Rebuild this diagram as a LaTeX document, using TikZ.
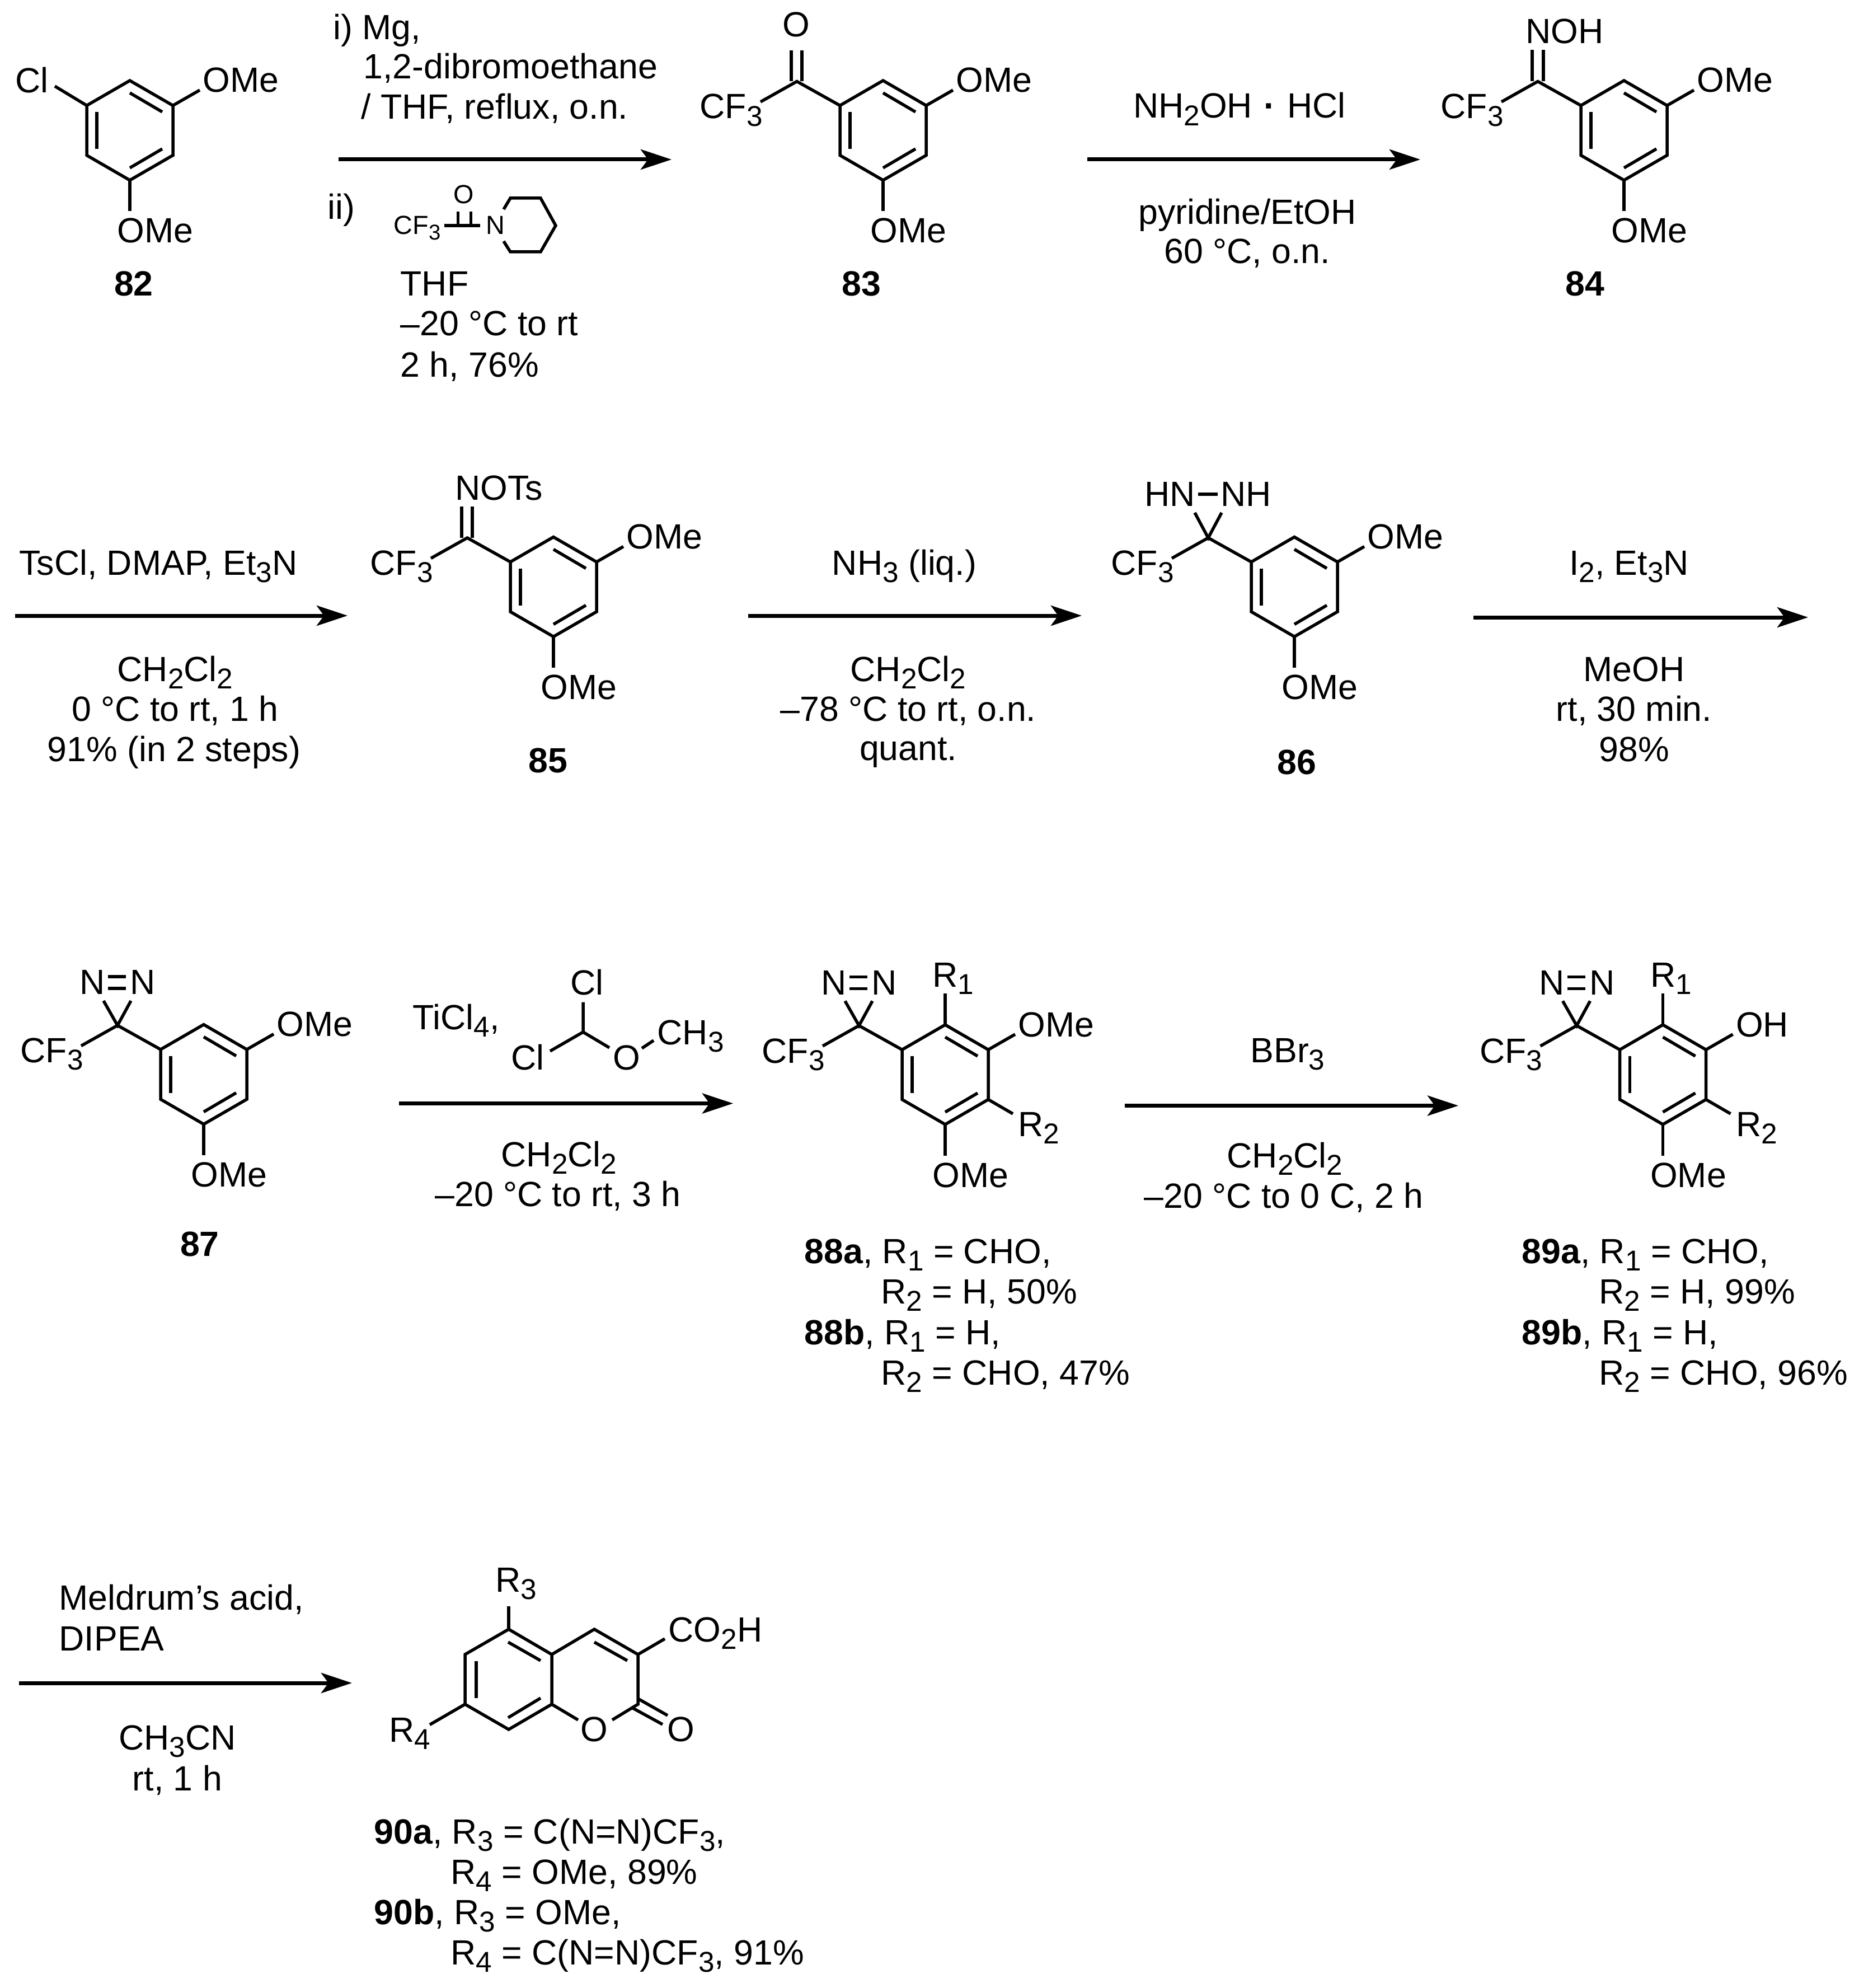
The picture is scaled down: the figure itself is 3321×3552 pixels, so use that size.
\documentclass[tikz,border=0pt]{standalone}
\usepackage{fontspec}
\usepackage{graphicx}
\setmainfont{Liberation Sans}
\usetikzlibrary{arrows.meta}
\newcommand{\low}[1]{\raisebox{-0.21em}{\scalebox{0.82}{#1}}}
\tikzset{
	bond/.style={line width=0.055cm},
	rxn/.style={line width=0.07cm,-{Stealth[length=0.55cm,width=0.36cm,inset=0.13cm]}},
	lab/.style={anchor=base west,inner sep=0pt},
	mid/.style={anchor=base,inner sep=0pt},
	num/.style={mid,font=\fontsize{17.8pt}{20pt}\selectfont\bfseries},
}
% ring with its two outer substituents, drawn round the origin of the scope
\newcommand{\arene}[2]{
	\coordinate (#1a) at (0,-89);
	\coordinate (#1b) at (77,-44.5);
	\coordinate (#1c) at (77,44.5);
	\coordinate (#1d) at (0,89);
	\coordinate (#1e) at (-77,44.5);
	\coordinate (#1f) at (-77,-44.5);
	\coordinate (#1u) at (125,-72);
	\coordinate (#1v) at (0,144.5);
	\draw[bond] (#1a) to (#1b) to (#1c) to (#1d) to (#1e) to (#1f) to cycle;
	\draw[bond] (-59,-33) to (-59,33);
	\draw[bond] (0,-67) to (58,-33);
	\draw[bond] (58,33) to (0,67);
	\draw[bond] (#1b) to (#1u);
	\draw[bond] (#1d) to (#1v);
	\node[lab] (#1up) at (130,-68) {#2};
	\node[lab] (#1dn) at (-23,201) {OMe};
}
\newcommand{\cfgroup}[1]{
	\coordinate (#1k) at (-154,-87.5);
	\coordinate (#1g) at (-219,-51);
	\draw[bond] (#1f) to (#1k) to (#1g);
	\node[lab] (#1cf) at (-328,-21) {CF\low{3}};
}
\newcommand{\azirine}[1]{
	\coordinate (#1n) at (-179,-131.5);
	\coordinate (#1m) at (-130,-131.5);
	\draw[bond] (#1n) to (#1k) to (#1m);
	\draw[bond] (-171,-174.5) to (-139,-174.5);
	\draw[bond] (-171,-153.5) to (-139,-153.5);
	\node[lab] (#1na) at (-222,-143) {N};
	\node[lab] (#1nb) at (-132,-143) {N};
}
\newcommand{\rgroups}[1]{
	\coordinate (#1r) at (0,-145);
	\coordinate (#1s) at (121,70);
	\draw[bond] (#1a) to (#1r);
	\draw[bond] (#1c) to (#1s);
	\node[lab] (#1ra) at (-23,-157) {R\low{1}};
	\node[lab] (#1rb) at (130,110.5) {R\low{2}};
}
\begin{document}
\begin{tikzpicture}[x=0.01cm,y=-0.01cm,every node/.style={font=\fontsize{17.8pt}{20pt}\selectfont}]
	\useasboundingbox (0,0) rectangle (3321,3552);
	% 82
	\begin{scope}[shift={(232,233)}]
		\arene{p}{OMe}
		\coordinate (pq) at (-134,-79);
		\draw[bond] (pf) to (pq);
		\node[lab] (pcl) at (-205,-67) {Cl};
	\end{scope}
	\node[num] (n82) at (239,529) {82};
	% 83
	\begin{scope}[shift={(1578,233)}]
		\arene{q}{OMe}
		\cfgroup{q}
		\draw[bond] (-164,-87.5) to (-164,-143);
		\draw[bond] (-145,-87.5) to (-145,-143);
		\node[mid] (qo) at (-155,-167) {O};
	\end{scope}
	\node[num] (n83) at (1539,529) {83};
	% 84
	\begin{scope}[shift={(2902,233)}]
		\arene{s}{OMe}
		\cfgroup{s}
		\draw[bond] (-164,-87.5) to (-164,-144);
		\draw[bond] (-144,-87.5) to (-144,-144);
		\node[lab] (sno) at (-176,-155) {NOH};
	\end{scope}
	\node[num] (n84) at (2832,529) {84};
	% 85
	\begin{scope}[shift={(989,1048.5)}]
		\arene{t}{OMe}
		\cfgroup{t}
		\draw[bond] (-164,-87.5) to (-164,-143.5);
		\draw[bond] (-145,-87.5) to (-145,-143.5);
		\node[lab] (tno) at (-176,-155.5) {NOTs};
	\end{scope}
	\node[num] (n85) at (979,1380) {85};
	% 86
	\begin{scope}[shift={(2313,1048.5)}]
		\arene{w}{OMe}
		\cfgroup{w}
		\coordinate (wn) at (-178,-132.5);
		\coordinate (wm) at (-130,-132.5);
		\draw[bond] (wn) to (wk) to (wm);
		\draw[bond] (-172,-165.5) to (-137.5,-165.5);
		\node[lab] (wna) at (-268,-144) {HN};
		\node[lab] (wnb) at (-132,-144) {NH};
	\end{scope}
	\node[num] (n86) at (2317,1383) {86};
	% 87
	\begin{scope}[shift={(364,1919.6)}]
		\arene{y}{OMe}
		\cfgroup{y}
		\azirine{y}
	\end{scope}
	\node[num] (n87) at (357,2244) {87};
	% 88
	\begin{scope}[shift={(1689,1920)}]
		\arene{z}{OMe}
		\cfgroup{z}
		\azirine{z}
		\rgroups{z}
	\end{scope}
	\node[lab] (n88a) at (1437,2257) {\textbf{88a}, R\low{1} = CHO,};
	\node[lab] (n88c) at (1574,2329) {R\low{2} = H, 50\%};
	\node[lab] (n88b) at (1437,2402) {\textbf{88b}, R\low{1} = H,};
	\node[lab] (n88d) at (1574,2474) {R\low{2} = CHO, 47\%};
	% 89
	\begin{scope}[shift={(2971.5,1920)}]
		\arene{h}{OH}
		\cfgroup{h}
		\azirine{h}
		\rgroups{h}
	\end{scope}
	\node[lab] (n89a) at (2719,2257) {\textbf{89a}, R\low{1} = CHO,};
	\node[lab] (n89c) at (2857,2329) {R\low{2} = H, 99\%};
	\node[lab] (n89b) at (2719,2402) {\textbf{89b}, R\low{1} = H,};
	\node[lab] (n89d) at (2857,2474) {R\low{2} = CHO, 96\%};
	% 90
	\coordinate (C5) at (909,2911);
	\coordinate (C4a) at (986,2956);
	\coordinate (C8a) at (986,3045);
	\coordinate (C8) at (909,3090);
	\coordinate (C7) at (831,3045);
	\coordinate (C6) at (831,2956);
	\coordinate (C4) at (1062,2911);
	\coordinate (C3) at (1140,2956);
	\coordinate (C2) at (1140,3045);
	\coordinate (Oa) at (1033,3073);
	\coordinate (Ob) at (1094,3073);
	\draw[bond] (C5) to (C4a) to (C8a) to (C8) to (C7) to (C6) to cycle;
	\draw[bond] (C4a) to (C4) to (C3) to (C2) to (Ob);
	\draw[bond] (C8a) to (Oa);
	\draw[bond] (908,2934) to (966,2967);
	\draw[bond] (851,2968) to (851,3034);
	\draw[bond] (908,3069) to (966,3034);
	\draw[bond] (1062,2934) to (1121,2967);
	\draw[bond] (1140,3035) to (1193,3065);
	\draw[bond] (1131,3052) to (1184,3081);
	\draw[bond] (C5) to (909,2869.5);
	\draw[bond] (C3) to (1188,2928);
	\draw[bond] (C7) to (768,3081.5);
	\node[lab] (rthree) at (885,2844) {R\low{3}};
	\node[lab] (acid) at (1194,2933) {CO\low{2}H};
	\node[lab] (rfour) at (695,3112) {R\low{4}};
	\node[mid] (oring) at (1062,3111) {O};
	\node[mid] (oexo) at (1217,3111) {O};
	\node[lab] (n90a) at (668,3294) {\textbf{90a}, R\low{3} = C(N=N)CF\low{3},};
	\node[lab] (n90c) at (805,3366) {R\low{4} = OMe, 89\%};
	\node[lab] (n90b) at (668,3438) {\textbf{90b}, R\low{3} = OMe,};
	\node[lab] (n90d) at (805,3510) {R\low{4} = C(N=N)CF\low{3}, 91\%};
	% step 1
	\coordinate (a1s) at (605,285);
	\coordinate (a1e) at (1200,285);
	\draw[rxn] (a1s) to (a1e);
	\node[lab] (r1a) at (595,71) {i) Mg,};
	\node[lab] (r1b) at (649,141) {1,2-dibromoethane};
	\node[lab] (r1c) at (645,213) {/ THF, reflux, o.n.};
	\node[lab] (r1d) at (585,392) {ii)};
	\node[lab] (r1e) at (715,529) {THF};
	\node[lab] (r1f) at (715,600) {--20 °C to rt};
	\node[lab] (r1g) at (715,673) {2 h, 76\%};
	\coordinate (pa) at (900,374);
	\coordinate (pb) at (912,354);
	\coordinate (pc) at (966,354);
	\coordinate (pd) at (993,403);
	\coordinate (pe) at (966,450);
	\coordinate (pg) at (912,450);
	\coordinate (ph) at (900,431);
	\draw[bond] (pa) to (pb) to (pc) to (pd) to (pe) to (pg) to (ph);
	\draw[bond] (793.5,403) to (858,403);
	\draw[bond] (818.5,403) to (818.5,378);
	\draw[bond] (841.7,403) to (841.7,378);
	\begin{scope}[every node/.style={font=\fontsize{13.3pt}{15pt}\selectfont}]
		\node[lab] (pcf) at (703,419) {CF\low{3}};
		\node[mid] (po) at (829,364) {O};
		\node[lab] (pn) at (868,419) {N};
	\end{scope}
	% step 2
	\coordinate (a2s) at (1943,285);
	\coordinate (a2e) at (2538,285);
	\draw[rxn] (a2s) to (a2e);
	\node[mid] (r2a) at (2215,211) {NH\low{2}OH\,\,\textbf{·}\,\,HCl};
	\node[mid] (r2b) at (2229,401) {pyridine/EtOH};
	\node[mid] (r2c) at (2229,471) {60 °C, o.n.};
	% step 3
	\coordinate (a3s) at (27,1100);
	\coordinate (a3e) at (621,1100);
	\draw[rxn] (a3s) to (a3e);
	\node[mid] (r3a) at (283,1027) {TsCl, DMAP, Et\low{3}N};
	\node[mid] (r3b) at (313,1217) {CH\low{2}Cl\low{2}};
	\node[mid] (r3c) at (313,1288) {0 °C to rt, 1 h};
	\node[mid] (r3d) at (311,1360) {91\% (in 2 steps)};
	% step 4
	\coordinate (a4s) at (1337,1100);
	\coordinate (a4e) at (1933,1100);
	\draw[rxn] (a4s) to (a4e);
	\node[mid] (r4a) at (1616,1027) {NH\low{3} (liq.)};
	\node[mid] (r4b) at (1623,1217) {CH\low{2}Cl\low{2}};
	\node[mid] (r4c) at (1623,1288) {--78 °C to rt, o.n.};
	\node[mid] (r4d) at (1623,1358) {quant.};
	% step 5
	\coordinate (a5s) at (2633,1103);
	\coordinate (a5e) at (3231,1103);
	\draw[rxn] (a5s) to (a5e);
	\node[mid] (r5a) at (2911,1027) {I\low{2}, Et\low{3}N};
	\node[mid] (r5b) at (2920,1217) {MeOH};
	\node[mid] (r5c) at (2920,1288) {rt, 30 min.};
	\node[mid] (r5d) at (2920,1360) {98\%};
	% step 6
	\coordinate (a6s) at (713,1971.5);
	\coordinate (a6e) at (1310,1971.5);
	\draw[rxn] (a6s) to (a6e);
	\node[lab] (r6a) at (737,1839.5) {TiCl\low{4},};
	\coordinate (mc) at (1042,1844);
	\coordinate (mu) at (1042,1790.5);
	\coordinate (ml) at (983,1878);
	\coordinate (mo) at (1089,1872);
	\coordinate (mp) at (1147,1873);
	\coordinate (mq) at (1168,1859);
	\draw[bond] (mu) to (mc) to (ml);
	\draw[bond] (mc) to (mo);
	\draw[bond] (mp) to (mq);
	\node[lab] (mcu) at (1019,1777.5) {Cl};
	\node[lab] (mcl) at (913,1911) {Cl};
	\node[lab] (moo) at (1095,1911) {O};
	\node[lab] (mch) at (1174,1866) {CH\low{3}};
	\node[mid] (r6b) at (999,2084) {CH\low{2}Cl\low{2}};
	\node[mid] (r6c) at (997,2155) {--20 °C to rt, 3 h};
	% step 7
	\coordinate (a7s) at (2010,1975.5);
	\coordinate (a7e) at (2606,1975.5);
	\draw[rxn] (a7s) to (a7e);
	\node[mid] (r7a) at (2301,1898) {BBr\low{3}};
	\node[mid] (r7b) at (2296,2086) {CH\low{2}Cl\low{2}};
	\node[mid] (r7c) at (2294,2158) {--20 °C to 0 C, 2 h};
	% step 8
	\coordinate (a8s) at (34,3007);
	\coordinate (a8e) at (629,3007);
	\draw[rxn] (a8s) to (a8e);
	\node[lab] (r8a) at (105,2876) {Meldrum’s acid,};
	\node[lab] (r8b) at (105,2949) {DIPEA};
	\node[mid] (r8c) at (317,3126) {CH\low{3}CN};
	\node[mid] (r8d) at (317,3199) {rt, 1 h};
\end{tikzpicture}
\end{document}
